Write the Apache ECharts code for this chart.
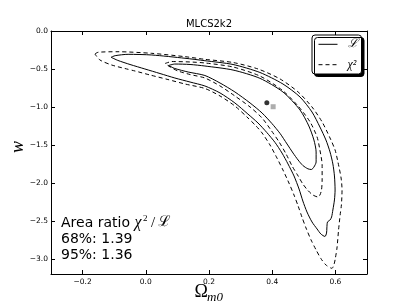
<!DOCTYPE html>
<html><head><meta charset="utf-8">
<script src="https://cdn.jsdelivr.net/npm/echarts@6/dist/echarts.min.js"></script>
<style>html,body{margin:0;padding:0;background:#fff}#c{width:407px;height:305px}</style>
</head><body><div id="c"></div>
<script>
const xTicks = [-0.2, 0.0, 0.2, 0.4, 0.6];
const yTicks = [-3.0, -2.5, -2.0, -1.5, -1.0, -0.5, 0.0];

// likelihood contours (solid)
const like68 = [[0.072,-0.454],[0.092,-0.435],[0.140,-0.441],[0.187,-0.461],[0.276,-0.514],[0.361,-0.623],[0.434,-0.803],[0.488,-1.040],[0.516,-1.251],[0.532,-1.435],[0.539,-1.593],[0.539,-1.725],[0.532,-1.791],[0.524,-1.824],[0.513,-1.815],[0.497,-1.771],[0.482,-1.699],[0.466,-1.607],[0.447,-1.488],[0.425,-1.350],[0.399,-1.218],[0.368,-1.080],[0.330,-0.948],[0.282,-0.803],[0.235,-0.685],[0.187,-0.586],[0.134,-0.540],[0.092,-0.494],[0.072,-0.454]];
const like95 = [[-0.110,-0.346],[-0.097,-0.325],[-0.056,-0.307],[0.019,-0.316],[0.124,-0.359],[0.187,-0.391],[0.276,-0.441],[0.361,-0.546],[0.434,-0.698],[0.488,-0.869],[0.526,-1.067],[0.551,-1.264],[0.570,-1.435],[0.583,-1.593],[0.592,-1.751],[0.597,-1.909],[0.599,-2.094],[0.597,-2.225],[0.592,-2.357],[0.588,-2.449],[0.583,-2.489],[0.575,-2.515],[0.573,-2.594],[0.572,-2.660],[0.567,-2.706],[0.554,-2.673],[0.542,-2.607],[0.526,-2.515],[0.510,-2.383],[0.497,-2.239],[0.485,-2.081],[0.469,-1.909],[0.450,-1.751],[0.431,-1.607],[0.409,-1.468],[0.383,-1.337],[0.355,-1.211],[0.323,-1.093],[0.282,-0.948],[0.235,-0.816],[0.187,-0.724],[0.140,-0.672],[0.092,-0.619],[0.045,-0.560],[-0.003,-0.500],[-0.050,-0.441],[-0.088,-0.388],[-0.110,-0.346]];
// chi-square contours (dashed)
const chi68 = [[0.061,-0.428],[0.083,-0.402],[0.140,-0.408],[0.187,-0.421],[0.276,-0.474],[0.361,-0.593],[0.431,-0.777],[0.482,-0.988],[0.520,-1.198],[0.542,-1.396],[0.551,-1.567],[0.558,-1.765],[0.558,-1.962],[0.556,-2.094],[0.551,-2.160],[0.545,-2.186],[0.529,-2.160],[0.513,-2.100],[0.497,-2.015],[0.482,-1.909],[0.463,-1.778],[0.444,-1.620],[0.422,-1.462],[0.396,-1.304],[0.368,-1.146],[0.330,-1.001],[0.282,-0.856],[0.235,-0.724],[0.187,-0.619],[0.140,-0.573],[0.102,-0.527],[0.077,-0.474],[0.061,-0.428]];
const chi95 = [[-0.161,-0.303],[-0.151,-0.280],[-0.088,-0.273],[0.019,-0.294],[0.124,-0.338],[0.187,-0.373],[0.276,-0.415],[0.355,-0.500],[0.425,-0.632],[0.482,-0.803],[0.526,-1.001],[0.558,-1.198],[0.583,-1.409],[0.599,-1.567],[0.608,-1.725],[0.618,-1.936],[0.621,-2.094],[0.619,-2.291],[0.615,-2.423],[0.610,-2.620],[0.605,-2.858],[0.600,-2.989],[0.596,-3.068],[0.589,-3.125],[0.570,-3.081],[0.554,-2.996],[0.539,-2.884],[0.523,-2.752],[0.507,-2.594],[0.494,-2.449],[0.482,-2.304],[0.469,-2.160],[0.453,-2.002],[0.434,-1.830],[0.415,-1.672],[0.393,-1.501],[0.368,-1.343],[0.349,-1.251],[0.320,-1.132],[0.282,-0.988],[0.235,-0.856],[0.187,-0.757],[0.124,-0.698],[0.070,-0.639],[0.013,-0.579],[-0.034,-0.527],[-0.066,-0.494],[-0.108,-0.448],[-0.145,-0.382],[-0.161,-0.303]];
const bestLike = [[0.383, -0.944]];
const bestChi = [[0.403, -0.997]];
const ratio68 = '1.39';
const ratio95 = '1.36';

const fmt = v => (v < 0 ? '\u2212' : '') + Math.abs(v).toFixed(1);
const sans = "'DejaVu Sans', sans-serif";
const serif = "'Liberation Serif', 'DejaVu Serif', serif";
const DASH = [4, 3];

function mkX(pos, show) {
  return {
    type: 'value', position: pos, min: -0.3, max: 0.7,
    axisLine: {show: true, onZero: false, lineStyle: {color: '#000', width: 1}},
    axisTick: {show: true, inside: true, length: 4, customValues: xTicks, lineStyle: {color: '#000'}},
    axisLabel: {show: show, customValues: xTicks, formatter: fmt, margin: 4, color: '#000', fontSize: 7.5, fontFamily: sans},
    splitLine: {show: false}
  };
}
function mkY(pos, show) {
  return {
    type: 'value', position: pos, min: -3.2, max: 0.0,
    axisLine: {show: true, onZero: false, lineStyle: {color: '#000', width: 1}},
    axisTick: {show: true, inside: true, length: 4, customValues: yTicks, lineStyle: {color: '#000'}},
    axisLabel: {show: show, customValues: yTicks, formatter: fmt, margin: 3, color: '#000', fontSize: 7.5, fontFamily: sans},
    splitLine: {show: false}
  };
}
function contour(name, data, dashed) {
  return {
    type: 'line', name: name, data: data, symbol: 'none', showSymbol: false, smooth: 0.25,
    xAxisIndex: 0, yAxisIndex: 0,
    lineStyle: {color: '#000', width: 1, type: dashed ? DASH : 'solid'},
    itemStyle: {color: '#000'}, z: 3, silent: true
  };
}

const chart = echarts.init(document.getElementById('c'), null, {renderer: 'canvas'});
chart.setOption({
  animation: false,
  backgroundColor: '#fff',
  title: {text: 'MLCS2k2', left: 209, top: 19, textAlign: 'center', padding: 0,
    textStyle: {fontSize: 10, fontWeight: 'normal', fontFamily: sans, color: '#000'}},
  grid: {left: 51, top: 31, width: 316, height: 243, containLabel: false},
  xAxis: [mkX('bottom', true), mkX('top', false)],
  yAxis: [mkY('left', true), mkY('right', false)],
  legend: {
    data: [
      {name: '\u2112', itemStyle: {opacity: 0}, lineStyle: {type: 'solid', width: 1, color: '#000'}},
      {name: '\u03c7\u00b2', itemStyle: {opacity: 0}, lineStyle: {type: DASH, width: 1, color: '#000'}}
    ],
    orient: 'vertical', left: 312, top: 35,
    itemWidth: 19, itemHeight: 10, itemGap: 8.4, padding: [3.3, 4, 3.3, 6],
    backgroundColor: '#fff', borderColor: '#000', borderWidth: 1, borderRadius: 3,
    shadowColor: '#000', shadowBlur: 0, shadowOffsetX: 2.5, shadowOffsetY: 2.5,
    itemStyle: {opacity: 0},
    textStyle: {fontFamily: serif, fontStyle: 'italic', fontSize: 12, color: '#000', padding: [0, 0, 0, 5]}
  },
  series: [
    contour('\u2112', like95, false),
    contour('\u2112', like68, false),
    contour('\u03c7\u00b2', chi95, true),
    contour('\u03c7\u00b2', chi68, true),
    {type: 'scatter', name: 'best L', data: bestLike, symbol: 'circle', symbolSize: 5, itemStyle: {color: '#000'}, z: 4, silent: true},
    {type: 'scatter', name: 'best chi', data: bestChi, symbol: 'rect', symbolSize: 5, itemStyle: {color: '#999'}, z: 4, silent: true}
  ],
  graphic: [
    {type: 'text', x: 208, y: 292, style: {text: '\u03a9', fontSize: 18, fontFamily: serif, fill: '#000', align: 'right', verticalAlign: 'middle', textAlign: 'right', textVerticalAlign: 'middle'}},
    {type: 'text', x: 207, y: 298, style: {text: 'm0', fontSize: 13, fontStyle: 'italic', fontFamily: serif, fill: '#000', align: 'left', verticalAlign: 'middle', textAlign: 'left', textVerticalAlign: 'middle'}},
    {type: 'text', x: 27, y: 147, rotation: Math.PI / 2, style: {text: 'w', fontSize: 18, fontStyle: 'italic', fontFamily: serif, fill: '#000', align: 'center', verticalAlign: 'bottom', textAlign: 'center', textVerticalAlign: 'bottom'}},
    {type: 'text', x: 61, y: 223, style: {text: 'Area ratio', fontSize: 14, fontFamily: sans, fill: '#000', align: 'left', verticalAlign: 'middle', textAlign: 'left', textVerticalAlign: 'middle'}},
    {type: 'text', x: 134.5, y: 222.5, style: {text: '\u03c7', fontSize: 16, fontStyle: 'italic', fontFamily: serif, fill: '#000', align: 'left', verticalAlign: 'middle', textAlign: 'left', textVerticalAlign: 'middle'}},
    {type: 'text', x: 143, y: 218.5, style: {text: '2', fontSize: 9, fontFamily: serif, fill: '#000', align: 'left', verticalAlign: 'middle', textAlign: 'left', textVerticalAlign: 'middle'}},
    {type: 'text', x: 151, y: 223, style: {text: '/', fontSize: 15, fontFamily: serif, fill: '#000', align: 'left', verticalAlign: 'middle', textAlign: 'left', textVerticalAlign: 'middle'}},
    {type: 'text', x: 157.5, y: 222.5, style: {text: '\u2112', fontSize: 15, fontFamily: serif, fill: '#000', align: 'left', verticalAlign: 'middle', textAlign: 'left', textVerticalAlign: 'middle'}},
    {type: 'text', x: 61, y: 239, style: {text: '68%: ' + ratio68, fontSize: 14, fontFamily: sans, fill: '#000', align: 'left', verticalAlign: 'middle', textAlign: 'left', textVerticalAlign: 'middle'}},
    {type: 'text', x: 61, y: 255, style: {text: '95%: ' + ratio95, fontSize: 14, fontFamily: sans, fill: '#000', align: 'left', verticalAlign: 'middle', textAlign: 'left', textVerticalAlign: 'middle'}}
  ]
});
</script></body></html>
